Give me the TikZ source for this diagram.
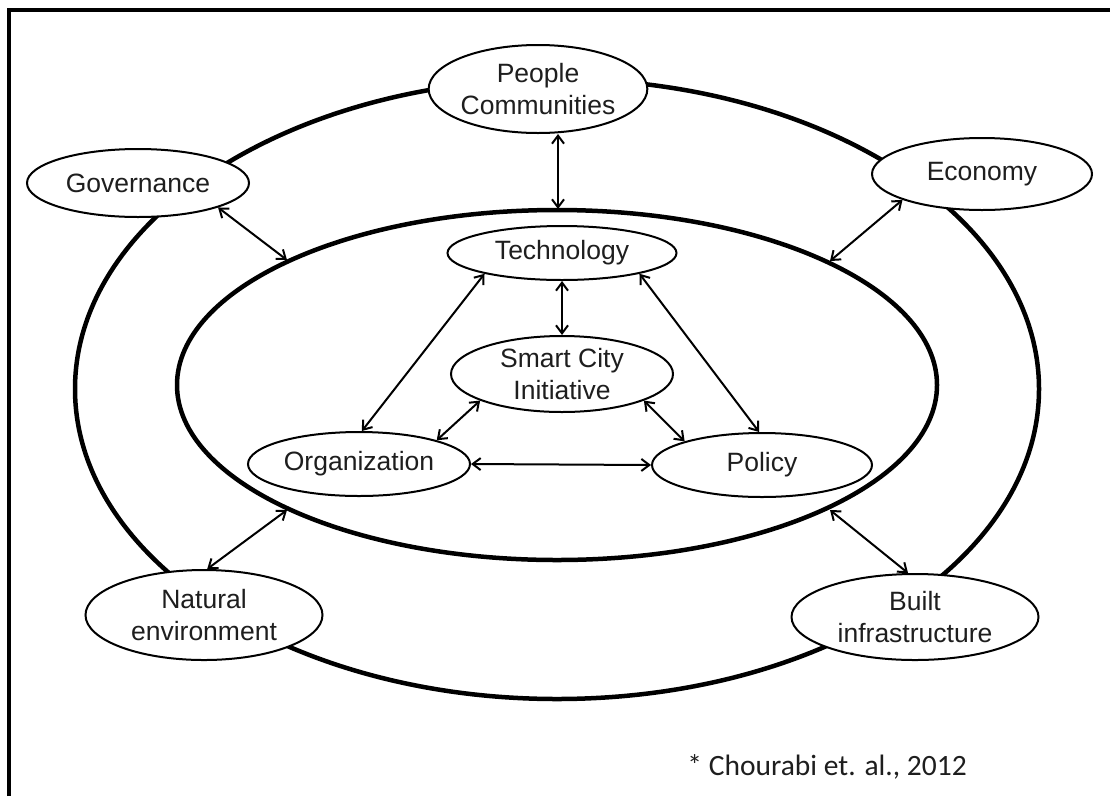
\documentclass[tikz,border=0pt]{standalone}
\usepackage{fontspec}
\setmainfont{Liberation Sans}
\newfontfamily\citefont{Carlito}
\usetikzlibrary{shapes.geometric,arrows.meta}
\definecolor{txt}{RGB}{30,30,30}
\tikzset{
  elnode/.style={ellipse, draw=black, line width=2pt, fill=white, inner sep=0pt,
    align=center, text=txt, font=\fontsize{26.5}{32}\selectfont},
  ring/.style={line width=4.5pt, black},
  link/.style={line width=2pt, {Straight Barb[length=8pt,width=12pt,line width=2pt]}-{Straight Barb[length=8pt,width=12pt,line width=2pt]}},
}
\begin{document}
\begin{tikzpicture}[x=1pt,y=-1pt]
\useasboundingbox (0,0) rectangle (1110,796);
% frame
\draw[line width=3.3pt] (9,796) -- (9,10) -- (1110,10);
% outer ring
\draw[ring] (557,389) ellipse [x radius=482, y radius=310];
% inner ring
\draw[ring] (557,385) ellipse [x radius=380, y radius=175];
% ring anchor points
\coordinate (ringT) at (558,209);
\coordinate (ringG) at (287,260);
\coordinate (ringE) at (830,261);
\coordinate (ringN) at (287,510);
\coordinate (ringB) at (830,510);
% nodes
\node[elnode, minimum width=210pt, minimum height=88pt] (pc) at (538,89) {People\\Communities};
\node[elnode, minimum width=222pt, minimum height=68pt] (gov) at (138,183) {Governance};
\node[elnode, minimum width=220pt, minimum height=72pt] (eco) at (982,174) {Economy};
\node[elnode, minimum width=229pt, minimum height=54pt] (tech) at (562,253) {Technology};
\node[elnode, minimum width=222pt, minimum height=76pt] (sci) at (562,374) {Smart City\\Initiative};
\node[elnode, minimum width=222pt, minimum height=64pt] (org) at (359,464) {Organization};
\node[elnode, minimum width=220pt, minimum height=64pt] (pol) at (762,465) {Policy};
\node[elnode, minimum width=237pt, minimum height=90pt] (nat) at (204,615) {Natural\\environment};
\node[elnode, minimum width=247pt, minimum height=86pt] (bui) at (915,617) {Built\\infrastructure};
% connectors
\draw[link] (pc.south -| ringT) -- (ringT);
\draw[link] (gov.-17) -- (ringG);
\draw[link] (eco.198) -- (ringE);
\draw[link] (nat.86) -- (ringN);
\draw[link] (bui.99) -- (ringB);
\draw[link] (tech.south) -- (sci.north);
\draw[link] (tech.195) -- (org.85);
\draw[link] (tech.-15) -- (pol.95);
\draw[link] (sci.198) -- (org.17);
\draw[link] (sci.-18) -- (pol.163);
\draw[link] (org.east) -- (pol.west);
% citation
\node[anchor=base east, inner sep=0pt, text=txt, font=\citefont\fontsize{29.5}{34}\selectfont] (cite) at (967,775) {* Chourabi et. al., 2012};
\end{tikzpicture}
\end{document}
